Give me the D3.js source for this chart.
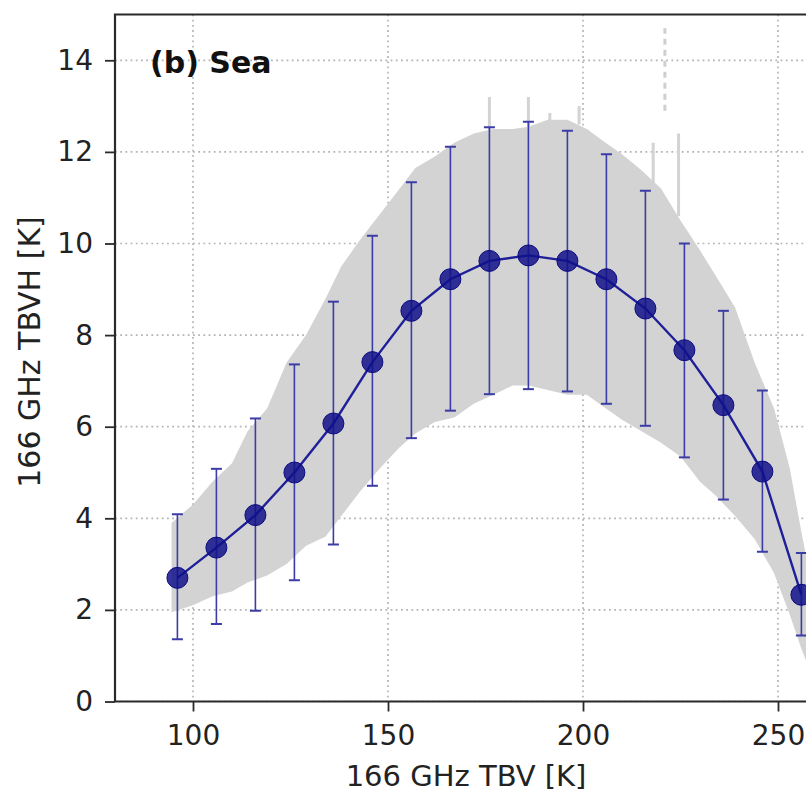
<!DOCTYPE html>
<html>
<head>
<meta charset="utf-8">
<script src="https://cdn.jsdelivr.net/npm/d3@7"></script>
<style>
  html, body { margin: 0; padding: 0; background: #fff; }
  svg { display: block; }
  text { font-family: "DejaVu Sans", sans-serif; }
</style>
</head>
<body>
<svg id="chart" width="806" height="793"></svg>
<script>
// ---- Data ----
// Binned statistics: bin centre TBV [K], mean TBVH [K], lower/upper error-bar end [K]
const binX     = [96, 106, 116, 126, 136, 146, 156, 166, 176, 186, 196, 206, 216, 226, 236, 246, 256];
const binMean  = [2.70, 3.36, 4.07, 5.00, 6.07, 7.41, 8.53, 9.22, 9.62, 9.74, 9.62, 9.22, 8.58, 7.67, 6.47, 5.02, 2.33];
const binLow   = [1.36, 1.69, 1.98, 2.65, 3.43, 4.71, 5.75, 6.35, 6.71, 6.82, 6.77, 6.50, 6.02, 5.33, 4.41, 3.27, 1.44];
const binHigh  = [4.09, 5.08, 6.18, 7.36, 8.73, 10.17, 11.34, 12.11, 12.54, 12.66, 12.46, 11.95, 11.15, 10.00, 8.53, 6.79, 3.24];

// Envelope of the grey scatter cloud
const cloudX     = [94.5, 100, 105, 110, 114, 119, 124, 129, 134, 138, 143, 148, 153, 157, 162, 167, 172, 177, 182, 186, 191, 196, 201, 205, 210, 215, 220, 225, 230, 234, 239, 244, 249, 253, 256, 259];
const cloudUpper = [3.9, 4.3, 4.8, 5.2, 5.9, 6.4, 7.4, 8.0, 8.8, 9.5, 10.1, 10.65, 11.2, 11.65, 11.9, 12.2, 12.4, 12.5, 12.5, 12.55, 12.7, 12.7, 12.5, 12.25, 11.95, 11.6, 11.2, 10.5, 9.85, 9.3, 8.6, 7.4, 6.4, 5.1, 3.7, 2.4];
const cloudLower = [1.95, 2.1, 2.3, 2.4, 2.6, 2.75, 3.0, 3.4, 3.6, 4.05, 4.6, 5.1, 5.55, 5.85, 6.1, 6.2, 6.5, 6.7, 6.9, 6.9, 6.8, 6.7, 6.7, 6.45, 6.15, 5.9, 5.65, 5.35, 4.8, 4.5, 4.05, 3.55, 2.8, 1.9, 1.15, 0.5];

// Isolated scatter spikes above the cloud: TBV, from, to
const spikeX    = [176, 186, 191.5, 199, 218, 224.5];
const spikeFrom = [12.3, 12.4, 12.5, 12.6, 11.3, 10.6];
const spikeTo   = [13.2, 13.2, 12.85, 13.0, 12.2, 12.4];
const dashSpikeX = [221], dashSpikeFrom = [12.9], dashSpikeTo = [14.7];

const xTicks = [100, 150, 200, 250];
const yTicks = [0, 2, 4, 6, 8, 10, 12, 14];
const xDomain = [80, 280];
const yDomain = [0, 15];
const panelTitle = "(b) Sea";
const xLabel = "166 GHz TBV [K]";
const yLabel = "166 GHz TBVH [K]";

// ---- Layout ----
const svg = d3.select("#chart");
const pLeft = 115, pTop = 14.5, pBottom = 701.5;
const x = d3.scaleLinear().domain(xDomain).range([pLeft, pLeft + 3.9 * (xDomain[1] - xDomain[0])]);
const y = d3.scaleLinear().domain(yDomain).range([pBottom, pTop]);
const pRight = x(xDomain[1]);

svg.append("defs").append("clipPath").attr("id", "plotclip")
  .append("rect").attr("x", pLeft).attr("y", pTop).attr("width", pRight - pLeft).attr("height", pBottom - pTop);

const plot = svg.append("g").attr("clip-path", "url(#plotclip)");

// grid
const gridColor = "#b4b4b4";
plot.append("g").selectAll("line").data(xTicks).join("line")
  .attr("x1", d => x(d)).attr("x2", d => x(d)).attr("y1", pTop).attr("y2", pBottom)
  .attr("stroke", gridColor).attr("stroke-width", 1.7).attr("stroke-dasharray", "1.8,3.4");
plot.append("g").selectAll("line").data(yTicks).join("line")
  .attr("x1", pLeft).attr("x2", pRight).attr("y1", d => y(d)).attr("y2", d => y(d))
  .attr("stroke", gridColor).attr("stroke-width", 1.7).attr("stroke-dasharray", "1.8,3.4");

// grey cloud
const cloud = cloudX.map((v, i) => ({x: v, lo: cloudLower[i], hi: cloudUpper[i]}));
plot.append("path").datum(cloud)
  .attr("d", d3.area().x(d => x(d.x)).y0(d => y(d.lo)).y1(d => y(d.hi)))
  .attr("fill", "#d3d3d3");

plot.append("g").selectAll("line").data(spikeX).join("line")
  .attr("x1", d => x(d)).attr("x2", d => x(d))
  .attr("y1", (d, i) => y(spikeFrom[i])).attr("y2", (d, i) => y(spikeTo[i]))
  .attr("stroke", "#d3d3d3").attr("stroke-width", 3);
plot.append("g").selectAll("line").data(dashSpikeX).join("line")
  .attr("x1", d => x(d)).attr("x2", d => x(d))
  .attr("y1", (d, i) => y(dashSpikeFrom[i])).attr("y2", (d, i) => y(dashSpikeTo[i]))
  .attr("stroke", "#cfcfcf").attr("stroke-width", 3).attr("stroke-dasharray", "6,5");

// error bars
const bins = binX.map((v, i) => ({x: v, m: binMean[i], lo: binLow[i], hi: binHigh[i]}));
const ebColor = "#3c3ca6";
const eb = plot.append("g");
eb.selectAll("line.v").data(bins).join("line").attr("class", "v")
  .attr("x1", d => x(d.x)).attr("x2", d => x(d.x)).attr("y1", d => y(d.lo)).attr("y2", d => y(d.hi))
  .attr("stroke", ebColor).attr("stroke-width", 1.6);
["lo", "hi"].forEach(k => {
  eb.selectAll("line." + k).data(bins).join("line").attr("class", k)
    .attr("x1", d => x(d.x) - 5.5).attr("x2", d => x(d.x) + 5.5)
    .attr("y1", d => y(d[k])).attr("y2", d => y(d[k]))
    .attr("stroke", ebColor).attr("stroke-width", 2);
});

// mean line + markers
plot.append("path").datum(bins)
  .attr("d", d3.line().x(d => x(d.x)).y(d => y(d.m)))
  .attr("fill", "none").attr("stroke", "#1f1f99").attr("stroke-width", 2.4);
plot.append("g").selectAll("circle").data(bins).join("circle")
  .attr("cx", d => x(d.x)).attr("cy", d => y(d.m)).attr("r", 10.5)
  .attr("fill", "#10108a").attr("fill-opacity", 0.85)
  .attr("stroke", "#0a0a80").attr("stroke-width", 1);

// axes
const axisColor = "#2a2a2a";
const gx = svg.append("g").attr("transform", `translate(0,${pBottom})`)
  .call(d3.axisBottom(x).tickValues(xTicks).tickSize(10).tickPadding(13.5).tickFormat(d3.format("d")));
const gy = svg.append("g").attr("transform", `translate(${pLeft},0)`)
  .call(d3.axisLeft(y).tickValues(yTicks).tickSize(10).tickPadding(12).tickFormat(d3.format("d")));
[gx, gy].forEach(g => {
  g.select(".domain").remove();
  g.selectAll(".tick line").attr("stroke", axisColor).attr("stroke-width", 1.8);
  g.selectAll(".tick text").attr("fill", "#222").style("font-size", "28px").style("font-family", "DejaVu Sans, sans-serif");
});

// frame (left, top, bottom spines)
svg.append("path")
  .attr("d", `M${pRight},${pTop}H${pLeft}V${pBottom}H${pRight}`)
  .attr("fill", "none").attr("stroke", axisColor).attr("stroke-width", 2.2);

// labels
svg.append("text").attr("x", 466).attr("y", 786).attr("text-anchor", "middle")
  .attr("fill", "#222").style("font-size", "29px").text(xLabel);
svg.append("text").attr("transform", "translate(40,352) rotate(-90)").attr("text-anchor", "middle")
  .attr("fill", "#222").style("font-size", "30px").text(yLabel);
svg.append("text").attr("x", 150).attr("y", 73)
  .attr("fill", "#111").style("font-size", "30px").style("font-weight", "bold").text(panelTitle);
</script>
</body>
</html>
